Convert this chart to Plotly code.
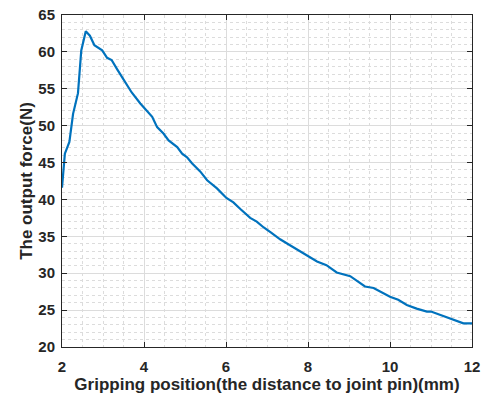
import plotly.graph_objects as go

# Gripping position (mm) and output force (N)
position = [2.00, 2.07, 2.18, 2.27, 2.39, 2.47, 2.58, 2.68, 2.79, 2.90, 2.98, 3.10, 3.21,
            3.35, 3.51, 3.70, 3.91, 4.05, 4.20, 4.32, 4.48, 4.60, 4.81, 4.93, 5.05,
            5.17, 5.37, 5.54, 5.78, 6.01, 6.18, 6.35, 6.59, 6.75, 6.92, 7.10, 7.32,
            7.50, 7.73, 7.95, 8.22, 8.45, 8.70, 9.03, 9.20, 9.39, 9.60, 9.80, 10.00,
            10.20, 10.41, 10.65, 10.90, 11.00, 11.20, 11.38, 11.60, 11.79, 11.90, 12.00]
force = [41.6, 46.2, 47.8, 51.6, 54.4, 60.2, 62.8, 62.2, 60.9, 60.5, 60.2, 59.2, 58.9,
         57.6, 56.1, 54.5, 53.0, 52.2, 51.2, 49.8, 48.9, 48.0, 47.1, 46.2, 45.7,
         44.9, 43.8, 42.6, 41.5, 40.2, 39.6, 38.7, 37.5, 37.0, 36.2, 35.5, 34.6,
         34.0, 33.2, 32.5, 31.6, 31.1, 30.1, 29.6, 28.9, 28.2, 28.0, 27.4, 26.8,
         26.4, 25.7, 25.2, 24.8, 24.8, 24.4, 23.95, 23.6, 23.2, 23.2, 23.2]

x_ticks = [2, 4, 6, 8, 10, 12]
y_ticks = [20, 25, 30, 35, 40, 45, 50, 55, 60, 65]

FONT = "Liberation Sans, Arial"
fig = go.Figure()
fig.add_trace(go.Scatter(x=position, y=force, mode="lines",
                         line=dict(color="#0072BD", width=2.2), showlegend=False))

axis_common = dict(
    showline=True, linecolor="#262626", linewidth=1, mirror="ticks",
    ticks="inside", ticklen=5, tickcolor="#262626", tickwidth=1,
    showgrid=True, gridcolor="#dcdcdc", gridwidth=1, zeroline=False, automargin=False,
    tickfont=dict(family=FONT, size=15, color="#262626", weight="bold"),
)

fig.update_xaxes(range=[2, 12], tickvals=x_ticks, **axis_common, ticklabelstandoff=6,
                 minor=dict(dtick=0.5, showgrid=True, gridcolor="#dcdcdc", griddash="dot", gridwidth=1),
                 title=dict(text="<b>Gripping position(the distance to joint pin)(mm)</b>",
                            font=dict(family=FONT, size=17, color="#262626"),
                            standoff=4))
fig.update_yaxes(range=[20, 65], tickvals=y_ticks, **axis_common, ticklabelstandoff=3,
                 minor=dict(dtick=1, showgrid=True, gridcolor="#dcdcdc", griddash="dot", gridwidth=1),
                 title=dict(text="<b>The output force(N)</b>",
                            font=dict(family=FONT, size=17, color="#262626"),
                            standoff=1))

fig.update_layout(width=487, height=399, paper_bgcolor="white", plot_bgcolor="white",
                  margin=dict(l=62, r=15, t=15, b=52, autoexpand=False))

fig.write_html("out.html")
